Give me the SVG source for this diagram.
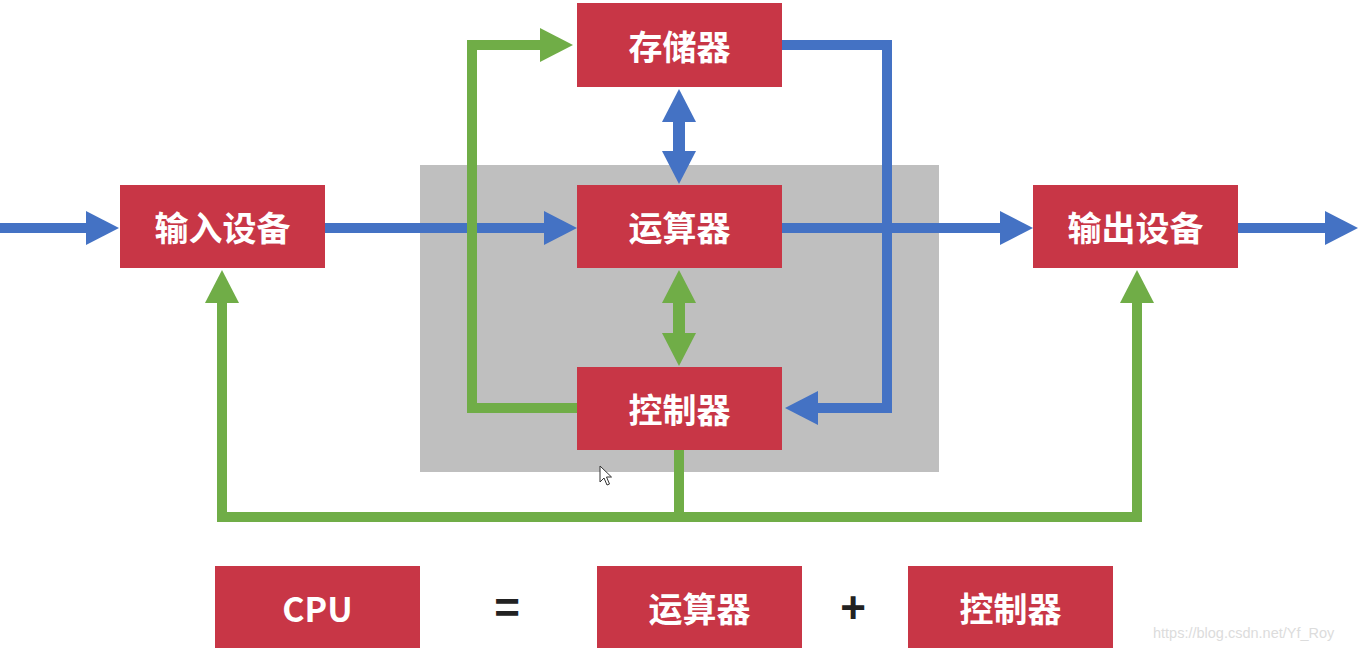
<svg xmlns="http://www.w3.org/2000/svg" width="1360" height="652" viewBox="0 0 1360 652">
<style>
.box{fill:#C83646;}
.lbl{fill:#FFFFFF;font-family:"Noto Sans CJK SC","Liberation Sans",sans-serif;font-weight:bold;font-size:34px;text-anchor:middle;dominant-baseline:central;}
.blue{fill:none;stroke:#4472C4;stroke-width:10;}
.green{fill:none;stroke:#70AD47;stroke-width:10;}
.sym{fill:#222222;font-family:"Liberation Sans",sans-serif;font-weight:bold;font-size:44px;text-anchor:middle;dominant-baseline:central;}
</style>
<defs>
<marker id="ab" markerUnits="userSpaceOnUse" markerWidth="34" markerHeight="34" viewBox="0 0 34 34" refX="1" refY="17" orient="auto-start-reverse"><path d="M0,0 L33,17 L0,34 z" fill="#4472C4"/></marker>
<marker id="ag" markerUnits="userSpaceOnUse" markerWidth="34" markerHeight="34" viewBox="0 0 34 34" refX="1" refY="17" orient="auto-start-reverse"><path d="M0,0 L33,17 L0,34 z" fill="#70AD47"/></marker>
</defs>
<rect x="0" y="0" width="1360" height="652" fill="#FFFFFF"/>
<rect id="cpu-area" x="420" y="165" width="519" height="307" fill="#BFBFBF"/>
<g id="connectors">
<path class="blue" d="M0,228 H87" marker-end="url(#ab)"/>
<path class="blue" d="M325,228 H545" marker-end="url(#ab)"/>
<path class="blue" d="M782,228 H1001" marker-end="url(#ab)"/>
<path class="blue" d="M1238,228 H1326" marker-end="url(#ab)"/>
<path class="blue" d="M679,121 V152" style="stroke-width:12" marker-start="url(#ab)" marker-end="url(#ab)"/>
<path class="blue" d="M782,45 H887 V408 H817" marker-end="url(#ab)"/>
<path class="green" d="M577,408 H472 V45 H541" marker-end="url(#ag)"/>
<path class="green" d="M679,302 V334" style="stroke-width:12" marker-start="url(#ag)" marker-end="url(#ag)"/>
<path class="green" d="M679,450 V517"/>
<path class="green" d="M222,302 V517 H1137 V302" marker-start="url(#ag)" marker-end="url(#ag)"/>
</g>
<g id="storage"><rect class="box" x="577" y="3" width="205" height="84"/><text class="lbl" x="679.5" y="45">存储器</text></g>
<g id="input"><rect class="box" x="120" y="185" width="205" height="83"/><text class="lbl" x="222.5" y="226.5">输入设备</text></g>
<g id="alu"><rect class="box" x="577" y="185" width="205" height="83"/><text class="lbl" x="679.5" y="226.5">运算器</text></g>
<g id="output"><rect class="box" x="1033" y="185" width="205" height="83"/><text class="lbl" x="1135.5" y="226.5">输出设备</text></g>
<g id="control"><rect class="box" x="577" y="367" width="205" height="83"/><text class="lbl" x="679.5" y="408.5">控制器</text></g>
<g id="cpu"><rect class="box" x="215" y="566" width="205" height="82"/><text class="lbl" x="317.5" y="607">CPU</text></g>
<g id="eq"><text class="sym" x="507" y="607">=</text></g>
<g id="alu2"><rect class="box" x="597" y="566" width="205" height="82"/><text class="lbl" x="699.5" y="607">运算器</text></g>
<g id="plus"><text class="sym" x="853" y="607">+</text></g>
<g id="control2"><rect class="box" x="908" y="566" width="205" height="82"/><text class="lbl" x="1010.5" y="607">控制器</text></g>
<path id="cursor" d="M600,466 L600,482 L604,478 L607,485 L609.5,484 L606.5,477 L611.5,477 Z" fill="#FFFFFF" stroke="#333333" stroke-width="1"/>
<text x="1153" y="638" font-family="Liberation Sans, sans-serif" font-size="14.5" fill="#DCDCDC">https://blog.csdn.net/Yf_Roy</text>
</svg>
